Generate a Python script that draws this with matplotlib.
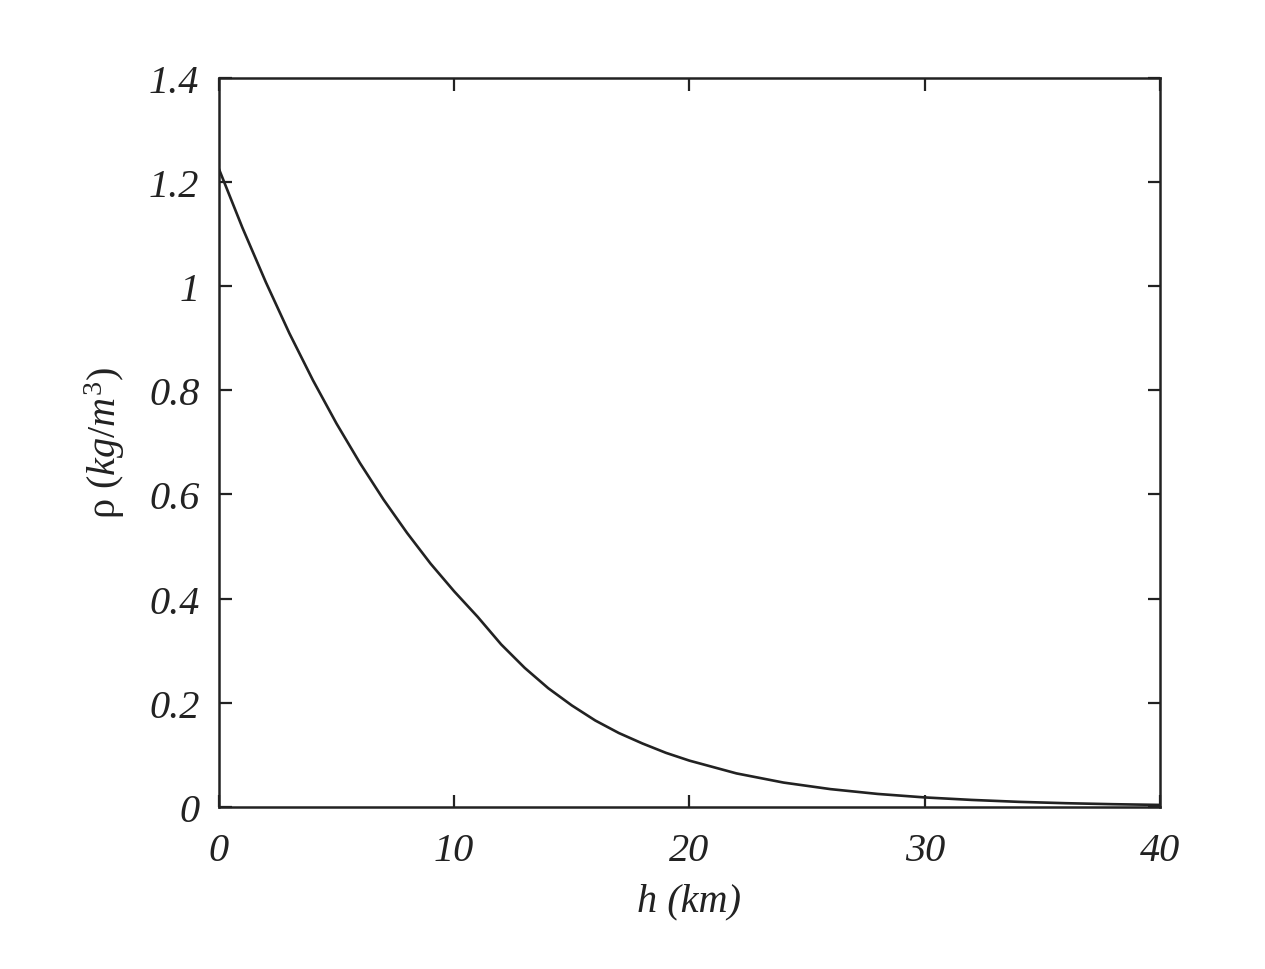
import matplotlib
matplotlib.use('Agg')
import matplotlib.pyplot as plt

# altitude (km) and air density (kg/m^3)
h_km = [0, 1, 2, 3, 4, 5, 6, 7, 8, 9, 10, 11, 12, 13, 14, 15, 16, 17, 18, 19,
        20, 22, 24, 26, 28, 30, 32, 34, 36, 38, 40]
rho = [1.225, 1.112, 1.007, 0.909, 0.819, 0.736, 0.660, 0.590, 0.526, 0.467,
       0.414, 0.365, 0.312, 0.267, 0.228, 0.195, 0.166, 0.142, 0.122, 0.104,
       0.089, 0.0645, 0.0469, 0.0343, 0.0251, 0.0184, 0.0136, 0.0099, 0.0073,
       0.0054, 0.0040]

xticks = [0, 10, 20, 30, 40]
yticks = [0, 0.2, 0.4, 0.6, 0.8, 1, 1.2, 1.4]
ytick_labels = ['0', '0.2', '0.4', '0.6', '0.8', '1', '1.2', '1.4']

plt.rcParams['font.family'] = 'Liberation Serif'
plt.rcParams['mathtext.fontset'] = 'custom'
plt.rcParams['mathtext.rm'] = 'Liberation Serif'
plt.rcParams['mathtext.it'] = 'Liberation Serif:italic'

ink = '#222222'
fs = 29

fig = plt.figure(figsize=(12.65, 9.7), dpi=100)
ax = fig.add_axes([0.173, 0.167, 0.744, 0.752])

ax.plot(h_km, rho, color=ink, lw=1.9, solid_joinstyle='round')

ax.set_xlim(0, 40)
ax.set_ylim(0, 1.4)
ax.set_xticks(xticks)
ax.set_xticklabels([str(t) for t in xticks], fontsize=fs, style='italic', color=ink)
ax.set_yticks(yticks)
ax.set_yticklabels(ytick_labels, fontsize=fs, style='italic', color=ink)

ax.tick_params(direction='in', length=9, width=1.6, colors=ink,
               top=True, right=True, pad=14)
ax.tick_params(axis='x', pad=18)
for sp in ax.spines.values():
    sp.set_linewidth(1.8)
    sp.set_color(ink)

ax.set_xlabel('h (km)', fontsize=fs, style='italic', color=ink, labelpad=10)
ax.set_ylabel(r'ρ $\mathit{(kg/m^3)}$', fontsize=fs, color=ink, labelpad=16)

fig.savefig('out.png', dpi=100, facecolor='white')
